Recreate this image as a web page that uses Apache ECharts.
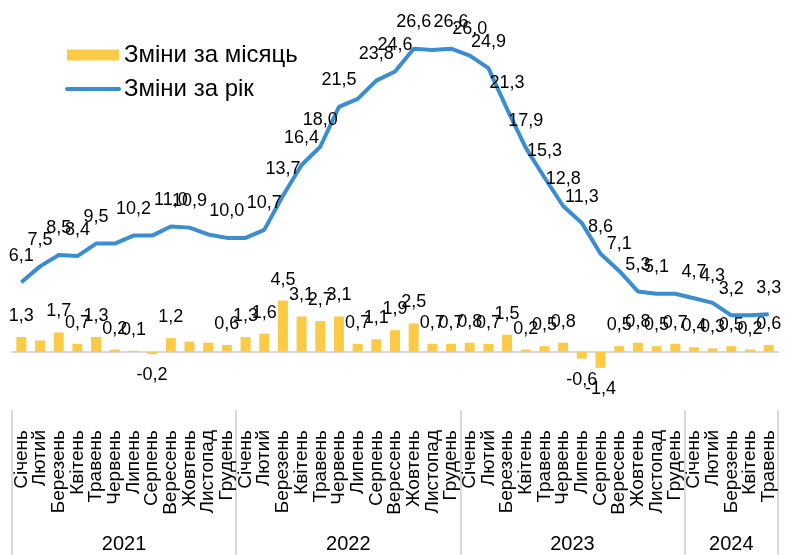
<!DOCTYPE html>
<html>
<head>
<meta charset="utf-8">
<script src="https://cdn.jsdelivr.net/npm/echarts/dist/echarts.min.js"></script>
<style>
  html, body { margin: 0; padding: 0; background: #fff; }
  #chart { width: 789px; height: 555px; }
</style>
</head>
<body>
<div id="chart"></div>
<script>
// місяці та роки
const monthNames = ["Січень", "Лютий", "Березень", "Квітень", "Травень", "Червень",
  "Липень", "Серпень", "Вересень", "Жовтень", "Листопад", "Грудень"];
const years = ["2021", "2022", "2023", "2024"];
const monthsPerYear = [12, 12, 12, 5];

// Зміни за місяць, %
const monthly = [
  1.3, 1.0, 1.7, 0.7, 1.3, 0.2, 0.1, -0.2, 1.2, 0.9, 0.8, 0.6,
  1.3, 1.6, 4.5, 3.1, 2.7, 3.1, 0.7, 1.1, 1.9, 2.5, 0.7, 0.7,
  0.8, 0.7, 1.5, 0.2, 0.5, 0.8, -0.6, -1.4, 0.5, 0.8, 0.5, 0.7,
  0.4, 0.3, 0.5, 0.2, 0.6
];
// Зміни за рік, %
const yearly = [
  6.1, 7.5, 8.5, 8.4, 9.5, 9.5, 10.2, 10.2, 11.0, 10.9, 10.3, 10.0,
  10.0, 10.7, 13.7, 16.4, 18.0, 21.5, 22.2, 23.8, 24.6, 26.6, 26.5, 26.6,
  26.0, 24.9, 21.3, 17.9, 15.3, 12.8, 11.3, 8.6, 7.1, 5.3, 5.1, 5.1,
  4.7, 4.3, 3.2, 3.2, 3.3
];
// підписи, яких немає на оригіналі
const hiddenMonthly = [1, 9, 10];
const hiddenYearly = [5, 7, 10, 12, 18, 22, 35, 39];

const categories = [];
monthsPerYear.forEach((n) => {
  for (let i = 0; i < n; i++) categories.push(monthNames[i]);
});
const yearStarts = [];
const yearCenters = {};
let start = 0;
monthsPerYear.forEach((n, k) => {
  yearStarts.push(start);
  yearCenters[Math.floor(start + (n - 1) / 2)] = { name: years[k], half: (n - 1) % 2 === 1 };
  start += n;
});

const fmt = (v) => v.toFixed(1).replace(".", ",");
const font = "Arial, 'Liberation Sans', sans-serif";
const barColor = "#FBCB47";
const lineColor = "#3A8DD0";
const band = (789 - 12 - 11) / categories.length;

let chart = echarts.init(document.getElementById("chart"));
let option = {
  animation: false,
  textStyle: { fontFamily: font },
  legend: {
    orient: "vertical",
    left: 60,
    top: 37,
    itemWidth: 52,
    itemHeight: 11,
    itemGap: 8,
    textStyle: { fontSize: 24, color: "#000", lineHeight: 26 },
    data: [
      { name: "Зміни за місяць", icon: "rect" },
      { name: "Зміни за рік", itemStyle: { opacity: 0 }, lineStyle: { width: 4, cap: "round" } },
    ],
  },
  grid: { left: 12, right: 11, top: 10, bottom: 169 },
  xAxis: [
    {
      type: "category",
      data: categories,
      position: "bottom",
      axisLine: { show: true, onZero: true, lineStyle: { color: "#d9d9d9", width: 2 } },
      axisTick: { show: false },
      axisLabel: { show: false },
      splitLine: { show: false },
    },
    {
      type: "category",
      data: categories,
      position: "bottom",
      offset: 24,
      axisLine: { show: false, onZero: false },
      axisTick: {
        show: true,
        interval: (idx) => yearStarts.includes(idx),
        length: 145,
        lineStyle: { color: "#d9d9d9", width: 2 },
      },
      axisLabel: { rotate: 90, interval: 0, fontSize: 19, margin: 20, color: "#000" },
    },
    {
      type: "category",
      data: categories,
      position: "bottom",
      offset: 140,
      axisLine: { show: false, onZero: false },
      axisTick: { show: false },
      axisLabel: {
        interval: (idx) => idx in yearCenters,
        margin: 8,
        fontSize: 20,
        color: "#000",
        formatter: (value, idx) => {
          let y = yearCenters[idx];
          if (!y) return "";
          return y.half ? "{h|" + y.name + "}" : y.name;
        },
        rich: { h: { fontSize: 20, color: "#000", padding: [0, 0, 0, band] } },
      },
    },
  ],
  yAxis: { type: "value", min: -3, max: 30, show: false, splitLine: { show: false } },
  series: [
    {
      name: "Зміни за місяць",
      type: "bar",
      barWidth: 10,
      itemStyle: { color: barColor },
      label: {
        fontSize: 18,
        color: "#000",
        formatter: (p) => fmt(p.value),
      },
      data: monthly.map((v, i) => ({
        value: v,
        label: {
          show: !hiddenMonthly.includes(i),
          position: v < 0 ? "bottom" : "top",
          distance: v < 0 ? 12 : 12,
        },
      })),
    },
    {
      name: "Зміни за рік",
      type: "line",
      symbol: "circle",
      symbolSize: 1,
      itemStyle: { color: lineColor },
      lineStyle: { color: lineColor, width: 4 },
      label: {
        fontSize: 18,
        color: "#000",
        position: "top",
        distance: 17,
        formatter: (p) => fmt(p.value),
      },
      data: yearly.map((v, i) => ({
        value: v,
        label: { show: !hiddenYearly.includes(i) },
      })),
    },
  ],
};
option && chart.setOption(option);
</script>
</body>
</html>
